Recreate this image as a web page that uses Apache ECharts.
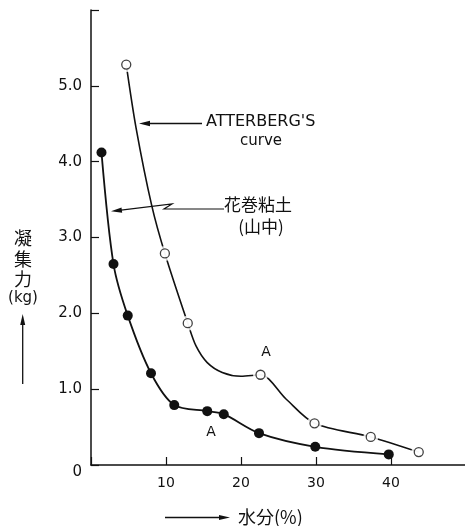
<!DOCTYPE html>
<html>
<head>
<meta charset="utf-8">
<script src="https://cdn.jsdelivr.net/npm/echarts@6/dist/echarts.min.js"></script>
<style>
html,body{margin:0;padding:0;background:#fff;}
#chart{width:465px;height:526px;}
</style>
</head>
<body>
<div id="chart"></div>
<script>
// 花巻粘土(山中) measured points: moisture (%) vs cohesion (kg)
const moistureHanamaki = [1.4, 3.0, 4.9, 8.0, 11.1, 15.5, 17.7, 22.4, 29.9, 39.7];
const cohesionHanamaki = [4.12, 2.65, 1.97, 1.21, 0.79, 0.71, 0.67, 0.42, 0.24, 0.14];

// ATTERBERG'S curve measured points (open circles)
const moistureAtterberg = [4.7, 9.85, 12.9, 22.6, 29.8, 37.3, 43.7];
const cohesionAtterberg = [5.28, 2.79, 1.87, 1.19, 0.55, 0.37, 0.17];

// ATTERBERG'S curve trace
const atterbergCurveX = [4.7, 6.0, 8.1, 9.85, 12.9, 14.0, 15.5, 17.5, 20.0, 22.6, 26.0, 29.8, 37.3, 43.7];
const atterbergCurveY = [5.28, 4.45, 3.42, 2.79, 1.87, 1.57, 1.35, 1.22, 1.17, 1.19, 0.87, 0.55, 0.37, 0.17];

const xTicks = [10, 20, 30, 40];
const yTicks = [0, 1, 2, 3, 4, 5];

const zip = (a, b) => a.map((v, i) => [v, b[i]]);

const chart = echarts.init(document.getElementById('chart'));
const ink = '#111';
const cjk = '"Noto Sans CJK JP", "Noto Sans CJK SC", sans-serif';
const lat = '"DejaVu Sans", sans-serif';

chart.setOption({
  backgroundColor: '#fff',
  animation: false,
  grid: {left: 91, top: 10, width: 375, height: 455, outerBoundsMode: 'none', containLabel: false},
  xAxis: {
    type: 'value', min: 0, max: 50, interval: 10,
    splitLine: {show: false},
    axisLine: {lineStyle: {color: ink, width: 1.5}},
    axisTick: {inside: true, length: 8, lineStyle: {color: ink, width: 1.2}},
    axisLabel: {
      color: ink, fontSize: 14, fontFamily: lat, margin: 11,
      formatter: v => xTicks.includes(v) ? String(v) : ''
    }
  },
  yAxis: {
    type: 'value', min: 0, max: 6, interval: 1,
    splitLine: {show: false},
    axisLine: {lineStyle: {color: ink, width: 1.5}},
    axisTick: {inside: true, length: 8, lineStyle: {color: ink, width: 1.2}},
    axisLabel: {
      color: ink, fontSize: 15, fontFamily: lat, margin: 9,
      formatter: v => !yTicks.includes(v) ? '' : (v === 0 ? '{z|0}' : v.toFixed(1)),
      rich: {z: {fontSize: 15, fontFamily: lat, color: ink, padding: [14, 0, 0, 0]}}
    }
  },
  series: [
    {
      name: '花巻粘土(山中)', type: 'line', data: zip(moistureHanamaki, cohesionHanamaki),
      smooth: 0.3,
      symbol: 'circle', symbolSize: 10,
      itemStyle: {color: ink},
      lineStyle: {color: ink, width: 1.8}, z: 3
    },
    {
      name: "ATTERBERG'S curve", type: 'line', data: zip(atterbergCurveX, atterbergCurveY),
      smooth: 0.3, showSymbol: false, symbol: 'none',
      lineStyle: {color: ink, width: 1.6}, z: 2
    },
    {
      type: 'scatter', data: zip(moistureAtterberg, cohesionAtterberg),
      symbol: 'circle', symbolSize: 15, itemStyle: {color: '#fff'}, z: 4, silent: true
    },
    {
      type: 'scatter', data: zip(moistureAtterberg, cohesionAtterberg),
      symbol: 'circle', symbolSize: 9,
      itemStyle: {color: '#fff', borderColor: ink, borderWidth: 1.3}, z: 5
    }
  ],
  graphic: [
    {type: 'text', style: {text: "ATTERBERG'S", x: 206, y: 122, font: '16px ' + lat, fill: ink, textAlign: 'left', textVerticalAlign: 'middle'}},
    {type: 'text', style: {text: 'curve', x: 261, y: 141, font: '15px ' + lat, fill: ink, textAlign: 'center', textVerticalAlign: 'middle'}},
    {type: 'polyline', shape: {points: [[202, 123.5], [146, 123.5]]}, style: {stroke: ink, lineWidth: 1.3, fill: null}},
    {type: 'polygon', shape: {points: [[139, 123.5], [150, 120.8], [150, 126.2]]}, style: {fill: ink}},
    {type: 'text', style: {text: '花巻粘土', x: 224, y: 205, font: '17px ' + cjk, fill: ink, textAlign: 'left', textVerticalAlign: 'middle'}},
    {type: 'text', style: {text: '(山中)', x: 261, y: 227, font: '17px ' + cjk, fill: ink, textAlign: 'center', textVerticalAlign: 'middle'}},
    {type: 'polyline', shape: {points: [[224, 209], [164, 209], [172, 204], [119, 210.3]]}, style: {stroke: ink, lineWidth: 1.2, fill: null}},
    {type: 'polygon', shape: {points: [[111, 211.2], [121.5, 207.6], [122.2, 212.8]]}, style: {fill: ink}},
    {type: 'text', style: {text: 'A', x: 266, y: 352, font: '14px ' + lat, fill: ink, textAlign: 'center', textVerticalAlign: 'middle'}},
    {type: 'text', style: {text: 'A', x: 211, y: 432, font: '14px ' + lat, fill: ink, textAlign: 'center', textVerticalAlign: 'middle'}},
    {type: 'text', style: {text: '凝', x: 23, y: 238, font: '18px ' + cjk, fill: ink, textAlign: 'center', textVerticalAlign: 'middle'}},
    {type: 'text', style: {text: '集', x: 23, y: 259, font: '18px ' + cjk, fill: ink, textAlign: 'center', textVerticalAlign: 'middle'}},
    {type: 'text', style: {text: '力', x: 23, y: 279, font: '18px ' + cjk, fill: ink, textAlign: 'center', textVerticalAlign: 'middle'}},
    {type: 'text', style: {text: '(kg)', x: 23, y: 298, font: '15px ' + lat, fill: ink, textAlign: 'center', textVerticalAlign: 'middle'}},
    {type: 'polyline', shape: {points: [[22.7, 384], [22.7, 322]]}, style: {stroke: ink, lineWidth: 1.3, fill: null}},
    {type: 'polygon', shape: {points: [[22.7, 314], [20.2, 325], [25.2, 325]]}, style: {fill: ink}},
    {type: 'polyline', shape: {points: [[165, 517.5], [221, 517.5]]}, style: {stroke: ink, lineWidth: 1.3, fill: null}},
    {type: 'polygon', shape: {points: [[230, 517.5], [219, 515], [219, 520]]}, style: {fill: ink}},
    {type: 'text', style: {text: '水分(%)', x: 238, y: 517, font: '18px ' + cjk, fill: ink, textAlign: 'left', textVerticalAlign: 'middle'}}
  ]
});
</script>
</body>
</html>
